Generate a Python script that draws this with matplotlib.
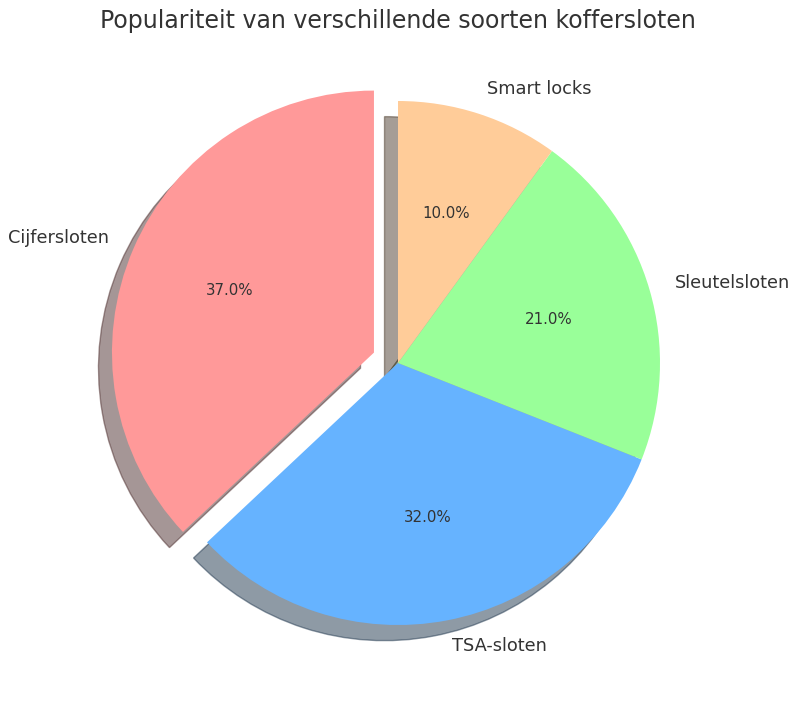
import matplotlib
matplotlib.use("Agg")
import matplotlib.pyplot as plt

labels = ["Cijfersloten", "TSA-sloten", "Sleutelsloten", "Smart locks"]
sizes = [37, 32, 21, 10]
colors = ["#ff9999", "#66b3ff", "#99ff99", "#ffcc99"]
explode = [0.1, 0, 0, 0]

W, H = 800, 701
R = 262.0          # pie radius in pixels
cx, cy = 398.0, 363.0   # pie centre (from top-left)
L = 1.4
aw = 2 * L * R
Ly = 1.29
ah = 2 * Ly * R

fig = plt.figure(figsize=(W / 100, H / 100), dpi=100)
ax = fig.add_axes([(cx - aw / 2) / W, (H - cy - ah / 2) / H, aw / W, ah / H])
wedges, texts, autotexts = ax.pie(sizes, explode=explode, labels=labels, colors=colors,
                                  autopct='%1.1f%%',
                                  shadow={'ox': -0.037, 'oy': -0.043},
                                  startangle=90,
                                  textprops={'color': '#333333'})
for t in texts:
    t.set_fontsize(12.8)
for t in autotexts:
    t.set_fontsize(10.8)
ax.set_aspect('auto')
ax.set_xlim(-L, L)
ax.set_ylim(-Ly, Ly)
fig.text(398 / W, 1 - 21 / H, "Populariteit van verschillende soorten koffersloten",
         fontsize=17, color='#333333', ha='center', va='center')
fig.savefig("out.png", dpi=100)
